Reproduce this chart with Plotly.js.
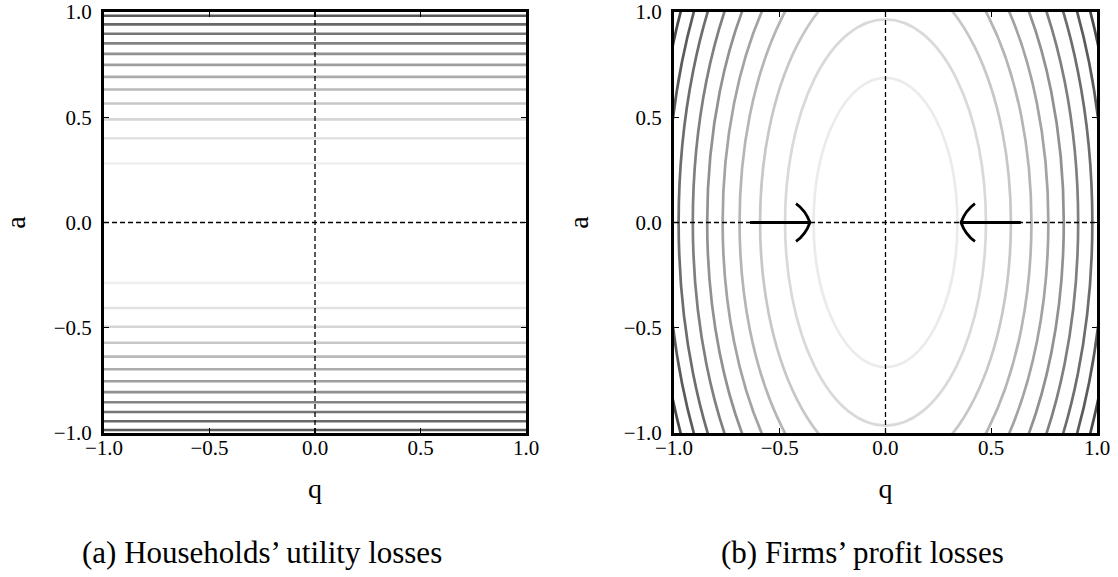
<!DOCTYPE html>
<html>
<head>
<meta charset="utf-8">
<script src="https://cdn.plot.ly/plotly-3.0.1.min.js"></script>
<style>
  html, body { margin: 0; padding: 0; background: #fff; }
  #chart { width: 1118px; height: 577px; }
</style>
</head>
<body>
<div id="chart"></div>
<script>
// ---------- data ----------
const qTicks = [-1, -0.5, 0, 0.5, 1];
const tickLabels = ['\u22121.0', '\u22120.5', '0.0', '0.5', '1.0'];

// (a) households: horizontal iso-loss lines, a values (inner -> outer)
const householdUpper = [0.280, 0.400, 0.490, 0.565, 0.632, 0.692, 0.749, 0.801, 0.851, 0.897, 0.941, 0.982];
const householdLower = [-0.287, -0.406, -0.495, -0.571, -0.637, -0.697, -0.754, -0.806, -0.854, -0.900, -0.944, -0.986];
const qSpan = [-1, 1];

// (b) firms: elliptical iso-loss contours, semi-axes (inner -> outer)
const firmSemiQ = [0.340, 0.475, 0.593, 0.690, 0.770, 0.843, 0.911, 0.978, 1.035, 1.090];
const firmSemiA = [0.687, 0.965, 1.186, 1.380, 1.540, 1.686, 1.822, 1.956, 2.070, 2.180];

// arrows on the a = 0 line of panel (b)
const arrowTail = [-0.640, 0.640];
const arrowTip  = [-0.357, 0.357];

// captions
const captions = ['(a) Households\u2019 utility losses', '(b) Firms\u2019 profit losses'];

// ---------- styles ----------
const lineGreys = ['#f0f0f0','#e2e2e2','#d5d5d5','#c7c7c7','#b9b9b9','#acacac','#9e9e9e','#909090','#838383','#757575','#686868','#5a5a5a'];
const ellipseGreys = ['#ebebeb','#d9d9d9','#c7c7c7','#b5b5b5','#a3a3a3','#919191','#7f7f7f','#6d6d6d','#5b5b5b','#4a4a4a'];
const FONT = '"Liberation Serif", "Times New Roman", serif';

const traces = [];
function addHLines(levels) {
  levels.forEach((v, i) => {
    traces.push({
      type: 'scatter', mode: 'lines', x: qSpan, y: [v, v],
      xaxis: 'x', yaxis: 'y', hoverinfo: 'skip', showlegend: false,
      line: { color: lineGreys[i], width: 2.6 }
    });
  });
}
addHLines(householdUpper);
addHLines(householdLower);
traces.push({ type: 'scatter', mode: 'lines', x: qSpan, y: [0, 0], xaxis: 'x2', yaxis: 'y2',
  hoverinfo: 'skip', showlegend: false, line: { color: 'rgba(0,0,0,0)', width: 0 } });

const shapes = [];
firmSemiQ.forEach((sq, i) => {
  shapes.push({ type: 'circle', xref: 'x2', yref: 'y2',
    x0: -sq, x1: sq, y0: -firmSemiA[i], y1: firmSemiA[i],
    line: { color: ellipseGreys[i], width: 2.7 }, layer: 'above' });
});
[['x','y'],['x2','y2']].forEach(([xr, yr]) => {
  shapes.push({ type: 'line', xref: xr, yref: yr, x0: 0, x1: 0, y0: -1, y1: 1,
    line: { color: '#000', width: 1.3, dash: '5px,3px' }, layer: 'above' });
  shapes.push({ type: 'line', xref: xr, yref: yr, x0: -1, x1: 1, y0: 0, y1: 0,
    line: { color: '#000', width: 1.3, dash: '5px,3px' }, layer: 'above' });
});
const headBack = 0.066, headHalf = 0.09;
arrowTail.forEach((t, i) => {
  const tip = arrowTip[i];
  const d = Math.sign(tip - t);
  shapes.push({ type: 'line', xref: 'x2', yref: 'y2', x0: t, x1: tip, y0: 0, y1: 0,
    line: { color: '#000', width: 2.8 }, layer: 'above' });
  const ex = tip - d * headBack, cx = tip - d * 0.31 * headBack;
  const path = `M ${ex},${headHalf} Q ${cx},${0.64 * headHalf} ${tip},0 Q ${cx},${-0.64 * headHalf} ${ex},${-headHalf}`;
  shapes.push({ type: 'path', xref: 'x2', yref: 'y2', path: path,
    line: { color: '#000', width: 2.8 }, fillcolor: 'rgba(0,0,0,0)', layer: 'above' });
});

function axis(extra) {
  return Object.assign({
    range: [-1, 1], tickvals: qTicks, ticktext: tickLabels,
    ticks: 'inside', ticklen: 5, tickwidth: 1.2, tickcolor: '#000',
    showline: true, linewidth: 3, linecolor: '#000', mirror: 'ticks',
    showgrid: false, zeroline: false, fixedrange: true,
    ticklabeloverflow: 'allow',
    tickfont: { family: FONT, size: 21, color: '#000' }
  }, extra);
}

const layout = {
  width: 1118, height: 577,
  margin: { l: 104, r: 21, t: 12, b: 144 },
  paper_bgcolor: '#fff', plot_bgcolor: '#fff',
  showlegend: false,
  font: { family: FONT, color: '#000' },
  xaxis:  axis({ domain: [0, 0.425], anchor: 'y', ticklabelstandoff: -6,
    title: { text: 'q', font: { family: FONT, size: 28, color: '#000' }, standoff: 20 } }),
  yaxis:  axis({ domain: [0, 1], anchor: 'x', ticklabelstandoff: 5,
    title: { text: 'a', font: { family: FONT, size: 28, color: '#000' }, standoff: 27 } }),
  xaxis2: axis({ domain: [0.574, 1], anchor: 'y2', ticklabelstandoff: -6,
    title: { text: 'q', font: { family: FONT, size: 28, color: '#000' }, standoff: 20 } }),
  yaxis2: axis({ domain: [0, 1], anchor: 'x2', ticklabelstandoff: 5,
    title: { text: 'a', font: { family: FONT, size: 28, color: '#000' }, standoff: 27 } }),
  shapes: shapes,
  annotations: [
    { text: captions[0], xref: 'paper', yref: 'paper', x: 0.159, y: -0.285, xanchor: 'center', yanchor: 'middle',
      showarrow: false, font: { family: FONT, size: 31, color: '#000' } },
    { text: captions[1], xref: 'paper', yref: 'paper', x: 0.764, y: -0.285, xanchor: 'center', yanchor: 'middle',
      showarrow: false, font: { family: FONT, size: 31, color: '#000' } }
  ]
};

Plotly.newPlot('chart', traces, layout, { staticPlot: true, displayModeBar: false });
</script>
</body>
</html>
